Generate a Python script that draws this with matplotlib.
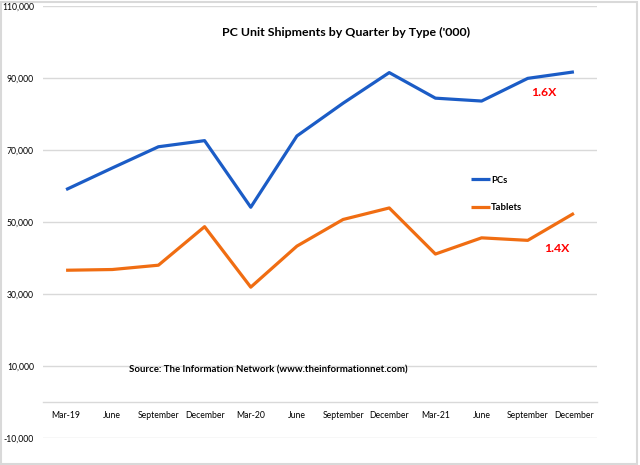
import matplotlib
matplotlib.use("Agg")
import matplotlib.pyplot as plt
from matplotlib.ticker import FuncFormatter
from matplotlib.patches import Rectangle

quarters = ["Mar-19", "June", "September", "December", "Mar-20", "June",
            "September", "December", "Mar-21", "June", "September", "December"]
pcs = [59000, 65000, 70900, 72600, 54100, 73900, 83000, 91500, 84400, 83600, 89900, 91700]
tablets = [36600, 36800, 38000, 48700, 31900, 43300, 50700, 53900, 41100, 45600, 44900, 52400]
yticks = [-10000, 10000, 30000, 50000, 70000, 90000, 110000]

plt.rcParams['font.family'] = ['Lato', 'DejaVu Sans']

fig = plt.figure(figsize=(6.4, 4.65), dpi=100)
fig.patch.set_facecolor("white")
fig.patches.append(Rectangle((0.002, 0.002), 0.994, 0.994, transform=fig.transFigure,
                             fill=False, edgecolor="#d9d9d9", linewidth=1.5))

ax = fig.add_axes([43/640, 1-438/465, 554/640, 432/465])
x = list(range(len(quarters)))
ax.plot(x, pcs, color="#1b5cc6", linewidth=2.3, label="PCs", solid_capstyle="butt")
ax.plot(x, tablets, color="#f06d12", linewidth=2.3, label="Tablets", solid_capstyle="butt")

ax.set_xlim(-0.5, len(quarters) - 0.5)
ax.set_ylim(-10000, 110000)
ax.set_yticks(yticks)
ax.yaxis.set_major_formatter(FuncFormatter(lambda v, p: f"{int(v):,}"))
ax.set_xticks(x)
ax.set_xticklabels(quarters)
ax.grid(axis="y", color="#d9d9d9", linewidth=1)
ax.set_axisbelow(True)
for s in ["top", "right", "left"]:
    ax.spines[s].set_visible(False)
ax.spines["bottom"].set_position(("data", 0))
ax.spines["bottom"].set_color("#d9d9d9")
ax.spines["bottom"].set_linewidth(1)
ax.tick_params(axis="both", length=0, labelsize=6.2, colors="black")
ax.tick_params(axis="x", pad=6.5)
ax.tick_params(axis="y", pad=6.5)

ax.text(10.35, 86100, "1.6X", color="red", fontsize=8.8, fontweight="bold", ha="center", va="center")
ax.text(10.64, 42500, "1.4X", color="red", fontsize=8.8, fontweight="bold", ha="center", va="center")

leg = ax.legend(loc="center left", bbox_to_anchor=(462/640, 1-194/465), bbox_transform=fig.transFigure,
                frameon=False, fontsize=6.8, handlelength=2.1, handletextpad=0.1, labelspacing=1.95)
for t in leg.get_texts():
    t.set_fontweight("bold")

fig.text(346/640, 1-32/465, "PC Unit Shipments by Quarter by Type ('000)", ha="center", va="center",
         fontsize=8.9, fontweight="bold")
fig.text(129/640, 1-370/465, "Source: The Information Network (www.theinformationnet.com)", ha="left",
         va="center", fontsize=6.9, fontweight="bold")

fig.savefig("out.png", dpi=100, facecolor="white")
